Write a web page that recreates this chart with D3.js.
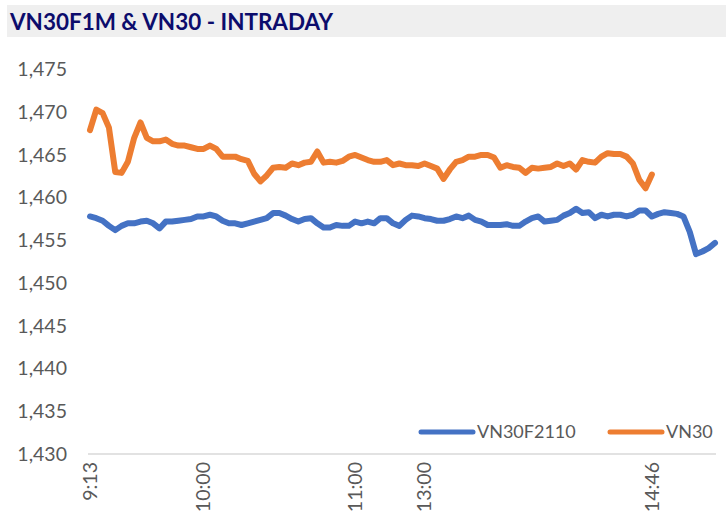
<!DOCTYPE html>
<html>
<head>
<meta charset="utf-8">
<script src="https://cdn.jsdelivr.net/npm/d3@7"></script>
<style>
  body { margin: 0; background: #fff; }
  text { font-family: Lato, "Open Sans", sans-serif; }
</style>
</head>
<body>
<svg id="chart" width="726" height="520"></svg>
<script>
let title = "VN30F1M & VN30 - INTRADAY";
let seriesNames = ["VN30F2110", "VN30"];
let colors = ["#4472c4", "#ed7d31"];

let yTicks = [1430, 1435, 1440, 1445, 1450, 1455, 1460, 1465, 1470, 1475];
let tickLabels = ["9:13", "10:00", "11:00", "13:00", "14:46"];
let tickIndex = [0, 18, 42, 53, 89];

// futures, read every sample along the session
let vn30f = [
  1457.8, 1457.6, 1457.3, 1456.7, 1456.2, 1456.7, 1457.0, 1457.0, 1457.2, 1457.3,
  1457.0, 1456.4, 1457.2, 1457.2, 1457.3, 1457.4, 1457.5, 1457.8, 1457.8, 1458.0,
  1457.8, 1457.3, 1457.0, 1457.0, 1456.8, 1457.0, 1457.2, 1457.4, 1457.6, 1458.2,
  1458.2, 1457.9, 1457.5, 1457.2, 1457.5, 1457.6, 1457.0, 1456.5, 1456.5, 1456.8,
  1456.7, 1456.7, 1457.2, 1457.0, 1457.2, 1457.0, 1457.6, 1457.6, 1457.0, 1456.7,
  1457.4, 1457.9, 1457.8, 1457.6, 1457.5, 1457.3, 1457.3, 1457.5, 1457.8, 1457.6,
  1457.9, 1457.4, 1457.2, 1456.8, 1456.8, 1456.8, 1456.9, 1456.7, 1456.7, 1457.2,
  1457.6, 1457.8, 1457.2, 1457.3, 1457.4, 1457.9, 1458.2, 1458.7, 1458.2, 1458.3,
  1457.6, 1458.0, 1457.8, 1458.0, 1458.0, 1457.8, 1458.0, 1458.5, 1458.5, 1457.8,
  1458.1, 1458.3, 1458.2, 1458.1, 1457.8, 1456.0, 1453.4, 1453.7, 1454.1, 1454.7
];

// index, stops at 14:46
let vn30 = [
  1467.9, 1470.3, 1469.9, 1468.2, 1463.0, 1462.9, 1464.2, 1467.0, 1468.8, 1467.0,
  1466.6, 1466.6, 1466.8, 1466.3, 1466.1, 1466.1, 1465.9, 1465.7, 1465.7, 1466.1,
  1465.7, 1464.8, 1464.8, 1464.8, 1464.5, 1464.3, 1462.8, 1461.9, 1462.6, 1463.5,
  1463.6, 1463.5, 1464.0, 1463.8, 1464.1, 1464.2, 1465.4, 1464.1, 1464.2, 1464.1,
  1464.3, 1464.8, 1465.0, 1464.7, 1464.4, 1464.2, 1464.2, 1464.4, 1463.8, 1464.0,
  1463.8, 1463.8, 1463.7, 1464.0, 1463.7, 1463.4, 1462.2, 1463.3, 1464.2, 1464.4,
  1464.8, 1464.8, 1465.0, 1465.0, 1464.7, 1463.5, 1463.8, 1463.6, 1463.5, 1462.9,
  1463.5, 1463.4, 1463.5, 1463.6, 1464.0, 1463.7, 1464.0, 1463.3, 1464.4, 1464.2,
  1464.1, 1464.8, 1465.2, 1465.1, 1465.1, 1464.8, 1464.0, 1462.1, 1461.1, 1462.7
];

let svg = d3.select("#chart");

// title bar
svg.append("rect")
  .attr("x", 7)
  .attr("y", 5)
  .attr("width", 719)
  .attr("height", 32)
  .attr("fill", "#efefef");

svg.append("text")
  .attr("x", 10)
  .attr("y", 30)
  .attr("fill", "#0c0c6c")
  .style("font-size", "22px")
  .style("font-weight", "bold")
  .attr("textLength", 323)
  .attr("lengthAdjust", "spacingAndGlyphs")
  .text(title);

let x = d3.scaleLinear().domain([0, vn30f.length - 1]).range([90, 715]);
let y = d3.scaleLinear().domain([1430, 1475]).range([454, 69.5]);

// y axis labels
let yAxis = svg.append("g")
  .attr("transform", "translate(72,0)")
  .call(
    d3.axisLeft(y)
      .tickValues(yTicks)
      .tickSize(0)
      .tickPadding(5)
      .tickFormat(d3.format(","))
  );
yAxis.select(".domain").remove();
yAxis.selectAll("text")
  .style("font-size", "19.5px")
  .style("font-family", "Lato, 'Open Sans', sans-serif")
  .attr("fill", "#595959");

// x axis line
svg.append("line")
  .attr("x1", 88)
  .attr("x2", 716)
  .attr("y1", y(1430))
  .attr("y2", y(1430))
  .attr("stroke", "#d9d9d9")
  .attr("stroke-width", 1.3);

svg.selectAll(".xlabel")
  .data(tickLabels)
  .enter()
  .append("text")
  .attr("class", "xlabel")
  .attr("transform", function (d, i) {
    return "translate(" + x(tickIndex[i]) + ",462) rotate(-90)";
  })
  .attr("text-anchor", "end")
  .attr("dy", "0.35em")
  .attr("fill", "#595959")
  .style("font-size", "19.5px")
  .text(function (d) {
    return d;
  });

let line = d3.line()
  .x(function (d, i) {
    return x(i);
  })
  .y(function (d) {
    return y(d);
  });

svg.selectAll(".series")
  .data([vn30f, vn30])
  .enter()
  .append("path")
  .attr("class", "series")
  .attr("d", line)
  .attr("fill", "none")
  .attr("stroke", function (d, i) {
    return colors[i];
  })
  .attr("stroke-width", 6)
  .attr("stroke-linejoin", "round")
  .attr("stroke-linecap", "round");

// legend
let legendX = [421, 610];
let legend = svg.selectAll(".legend")
  .data(seriesNames)
  .enter()
  .append("g")
  .attr("class", "legend")
  .attr("transform", function (d, i) {
    return "translate(" + legendX[i] + ",432)";
  });

legend.append("line")
  .attr("x1", 0)
  .attr("x2", 52)
  .attr("stroke", function (d, i) {
    return colors[i];
  })
  .attr("stroke-width", 5)
  .attr("stroke-linecap", "round");

legend.append("text")
  .attr("x", 56)
  .attr("dy", "0.35em")
  .attr("fill", "#595959")
  .style("font-size", "18px")
  .text(function (d) {
    return d;
  });
</script>
</body>
</html>
